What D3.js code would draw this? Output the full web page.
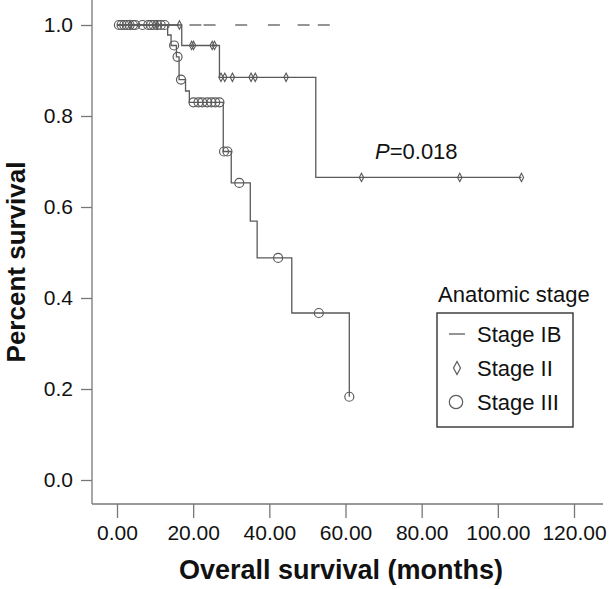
<!DOCTYPE html>
<html><head><meta charset="utf-8">
<script src="https://cdn.jsdelivr.net/npm/d3@7"></script>
<style>
html,body{margin:0;padding:0;background:#fff;}
svg{display:block;font-family:"Liberation Sans",Arial,sans-serif;}
</style></head>
<body><svg id="c" width="610" height="589"></svg>
<script>
// ---- data ----
const xTicks = [0, 20, 40, 60, 80, 100, 120];
const yTicks = [0, 0.2, 0.4, 0.6, 0.8, 1.0];
const stages = ["Stage IB", "Stage II", "Stage III"];

// Stage IB: no events, censored at 1.0
const ibCensor = [14.6, 20.6, 24.3, 32.6, 41.2, 49.0, 54.3];

// Stage II step function [month, survival]
const iiSteps = [[0, 1], [17.0, 0.955], [26.9, 0.885], [52.2, 0.665], [106.2, 0.665]];
const iiCensor = [3.5, 10.5, 16.4, 19.6, 20.1, 25.0, 25.6, 27.3, 28.3, 30.3, 35.2, 36.3, 44.4, 64.2, 90.0, 106.2];

// Stage III step function [month, survival]
const iiiSteps = [[0, 1], [13.3, 0.978], [14.2, 0.955], [15.6, 0.93], [16.3, 0.88], [18.0, 0.855], [19.0, 0.83],
  [27.9, 0.722], [30.0, 0.653], [35.0, 0.569], [36.8, 0.488], [45.9, 0.367], [61.0, 0.183]];
const iiiCensor = [0.5, 1.2, 1.9, 2.6, 3.3, 4.2, 4.8, 6.7, 8.2, 8.9, 9.6, 10.6, 11.5, 12.5,
  15.0, 15.9, 16.8, 20.1, 21.4, 22.4, 23.7, 24.8, 25.8, 26.9, 28.1, 29.0, 32.1, 42.3, 53.0, 61.0];

const pText = "0.018";

// ---- layout ----
const svg = d3.select("#c");
const x = d3.scaleLinear().domain([0, 120]).range([117, 574]);
const y = d3.scaleLinear().domain([0, 1]).range([480, 25]);
const lineCol = "#5a5a5a";

function survAt(steps, t) {
  let s = steps[0][1];
  for (const [tt, v] of steps) { if (tt <= t + 1e-9) s = v; }
  return s;
}

// axes lines
svg.append("line").attr("x1", 92).attr("x2", 92).attr("y1", 0).attr("y2", 504)
  .attr("stroke", "#777").attr("stroke-width", 1.3);
svg.append("line").attr("x1", 92).attr("x2", 603).attr("y1", 504).attr("y2", 504)
  .attr("stroke", "#777").attr("stroke-width", 1.3);

// y axis ticks
const yAxis = d3.axisLeft(y).tickValues(yTicks).tickFormat(d3.format(".1f")).tickSize(11).tickPadding(8);
const gy = svg.append("g").attr("transform", "translate(92,0)").call(yAxis);
gy.select(".domain").remove();
gy.selectAll("line").attr("stroke", "#777").attr("stroke-width", 1.3);
gy.selectAll("text").attr("font-size", 21).attr("fill", "#111").attr("font-family", "Liberation Sans, Arial, sans-serif");

// x axis ticks
const xAxis = d3.axisBottom(x).tickValues(xTicks).tickFormat(d3.format(".2f")).tickSize(14).tickPadding(7);
const gx = svg.append("g").attr("transform", "translate(0,504)").call(xAxis);
gx.select(".domain").remove();
gx.selectAll("line").attr("stroke", "#777").attr("stroke-width", 1.3);
gx.selectAll("text").attr("font-size", 21).attr("fill", "#111").attr("font-family", "Liberation Sans, Arial, sans-serif");

// axis titles
svg.append("text").attr("x", 341).attr("y", 579).attr("text-anchor", "middle")
  .attr("font-size", 27).attr("font-weight", "bold").attr("fill", "#111").text("Overall survival (months)");
svg.append("text").attr("transform", "translate(25,262) rotate(-90)").attr("text-anchor", "middle")
  .attr("font-size", 26).attr("font-weight", "bold").attr("fill", "#111").text("Percent survival");

// curves
const stepLine = d3.line().x(d => x(d[0])).y(d => y(d[1])).curve(d3.curveStepAfter);
function drawCurve(steps) {
  svg.append("path").attr("d", stepLine(steps)).attr("fill", "none")
    .attr("stroke", lineCol).attr("stroke-width", 1.3);
}
drawCurve(iiSteps);
drawCurve(iiiSteps);

// censor marks
svg.append("g").selectAll("line").data(ibCensor).join("line")
  .attr("x1", d => x(d) - 6).attr("x2", d => x(d) + 6)
  .attr("y1", y(1)).attr("y2", y(1)).attr("stroke", lineCol).attr("stroke-width", 1.3);

svg.append("g").selectAll("circle").data(iiiCensor).join("circle")
  .attr("cx", d => x(d)).attr("cy", d => y(survAt(iiiSteps, d))).attr("r", 4.5)
  .attr("fill", "none").attr("stroke", lineCol).attr("stroke-width", 1.2);

const diamond = (cx, cy, w, h) => `M${cx},${cy - h}L${cx + w},${cy}L${cx},${cy + h}L${cx - w},${cy}Z`;
svg.append("g").selectAll("path").data(iiCensor).join("path")
  .attr("d", d => diamond(x(d), y(survAt(iiSteps, d)), 2.2, 4.2))
  .attr("fill", "none").attr("stroke", lineCol).attr("stroke-width", 1.1);

// P value
const pt = svg.append("text").attr("x", 375).attr("y", 159).attr("font-size", 22).attr("fill", "#111");
pt.append("tspan").attr("font-style", "italic").text("P");
pt.append("tspan").text("=" + pText);

// legend
svg.append("text").attr("x", 438).attr("y", 302).attr("font-size", 22).attr("fill", "#111").text("Anatomic stage");
svg.append("rect").attr("x", 437).attr("y", 313).attr("width", 136).attr("height", 114)
  .attr("fill", "none").attr("stroke", "#333").attr("stroke-width", 1.4);
const ly = [334, 368, 402];
stages.forEach((s, i) => {
  svg.append("text").attr("x", 477).attr("y", ly[i]).attr("dy", "0.35em")
    .attr("font-size", 22).attr("fill", "#111").text(s);
});
svg.append("line").attr("x1", 449).attr("x2", 465).attr("y1", ly[0]).attr("y2", ly[0])
  .attr("stroke", lineCol).attr("stroke-width", 1.3);
svg.append("path").attr("d", diamond(457, ly[1], 3.5, 6.5)).attr("fill", "none")
  .attr("stroke", lineCol).attr("stroke-width", 1.2);
svg.append("circle").attr("cx", 456).attr("cy", ly[2]).attr("r", 6.7).attr("fill", "none")
  .attr("stroke", lineCol).attr("stroke-width", 1.2);
</script></body></html>
